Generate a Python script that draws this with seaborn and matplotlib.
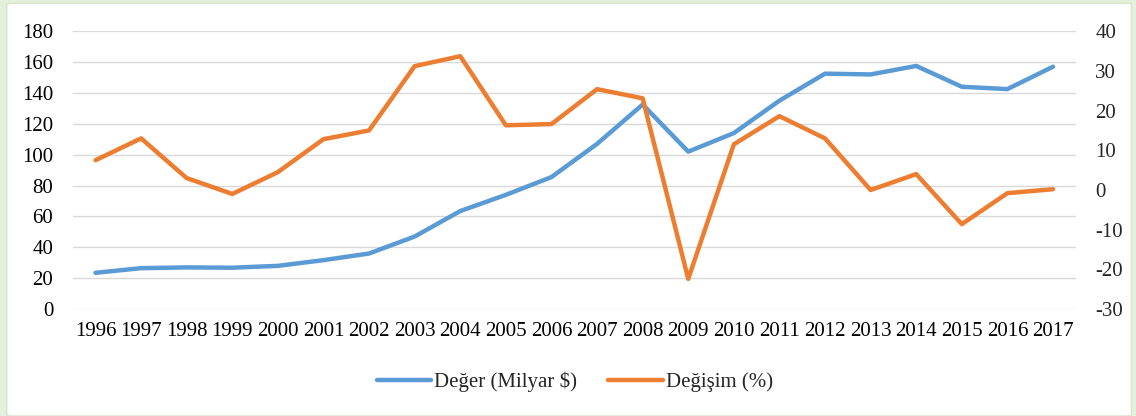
import matplotlib
matplotlib.use('Agg')
import matplotlib.pyplot as plt
import seaborn as sns
import pandas as pd
from matplotlib.patches import FancyBboxPatch
from matplotlib.lines import Line2D

# ── DATA ──────────────────────────────────────────────
years = list(range(1996, 2018))
deger = [23.5, 26.5, 27, 26.8, 28, 31.7, 36, 47, 63.5, 74, 85.5, 107,
         132.5, 102, 114, 135, 152.5, 152, 157.5, 144, 142.5, 157]
degisim = [7.5, 13, 3, -1, 4.5, 12.8, 15, 31.2, 33.7, 16.3, 16.6, 25.4,
           23.1, -22.4, 11.5, 18.6, 13, 0, 4, -8.6, -0.8, 0.2]
left_ticks = list(range(0, 181, 20))
right_ticks = list(range(-30, 41, 10))

df = pd.DataFrame({'Yil': years, 'Deger': deger, 'Degisim': degisim})

BLUE = '#5B9BD5'
ORANGE = '#ED7D31'
FS = 15

sns.set_style('white')
plt.rcParams['font.family'] = ['Liberation Serif', 'DejaVu Serif']
plt.rcParams['axes.unicode_minus'] = False

fig = plt.figure(figsize=(11.36, 4.16), dpi=100, facecolor='#E4F0DC')
fig.patches.append(FancyBboxPatch((0.006, 0.0), 0.99, 0.992,
                                  boxstyle='round,pad=0,rounding_size=0.004',
                                  transform=fig.transFigure, facecolor='white',
                                  edgecolor='#D5E6C9', lw=1, zorder=-5))
ax = fig.add_axes([0.064, 0.257, 0.883, 0.668])
ax.set_facecolor('none')
ax2 = ax.twinx()

sns.lineplot(data=df, x='Yil', y='Deger', ax=ax, color=BLUE, lw=3.2,
             solid_capstyle='round', solid_joinstyle='round')
sns.lineplot(data=df, x='Yil', y='Degisim', ax=ax2, color=ORANGE, lw=3.2,
             solid_capstyle='round', solid_joinstyle='round')

ax.set_ylim(0, 180)
ax.set_yticks(left_ticks)
ax2.set_ylim(-30, 40)
ax2.set_yticks(right_ticks)
ax.set_xlim(1995.5, 2017.5)
ax.set_xticks(years)
ax.set_xticklabels([str(y) for y in years])
ax.grid(axis='y', color='#D9D9D9', lw=1)
ax.set_axisbelow(True)
for a in (ax, ax2):
    for s in a.spines.values():
        s.set_visible(False)
    a.set_xlabel('')
    a.set_ylabel('')
ax.tick_params(axis='both', length=0, labelsize=FS, colors='#000000')
ax.tick_params(axis='y', pad=14)
ax.tick_params(axis='x', pad=9)
ax2.tick_params(axis='y', length=0, labelsize=FS, pad=14)

handles = [Line2D([0], [0], color=BLUE, lw=3.2, solid_capstyle='round'),
           Line2D([0], [0], color=ORANGE, lw=3.2, solid_capstyle='round')]
fig.legend(handles, ['Değer (Milyar $)', 'Değişim (%)'], loc='center',
           bbox_to_anchor=(0.506, 0.082), ncol=2, frameon=False,
           fontsize=FS, handlelength=2.6, columnspacing=1.5, handletextpad=0.15)

fig.savefig('out.png', dpi=100, facecolor=fig.get_facecolor())
